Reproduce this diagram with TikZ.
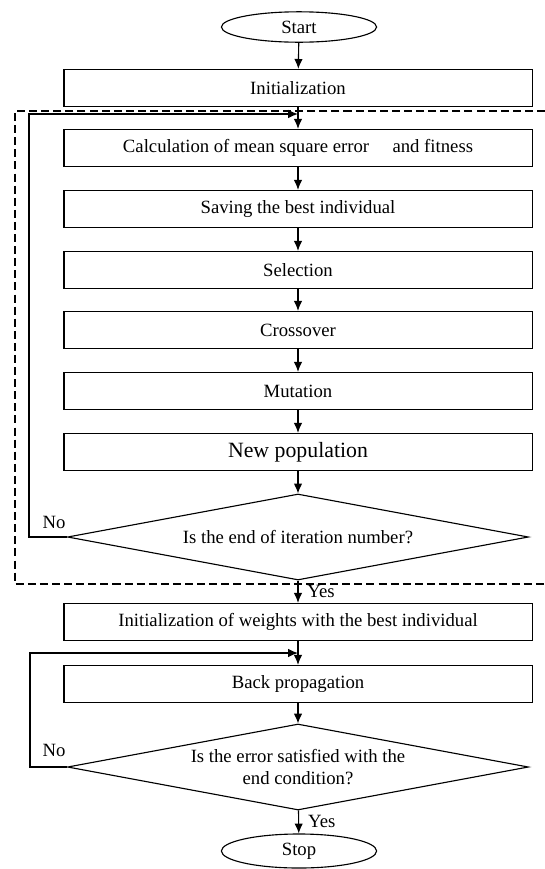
\documentclass[tikz,border=0pt]{standalone}
\usepackage{fontspec}
\setmainfont{Liberation Serif}
\usetikzlibrary{arrows.meta,graphs,quotes,shapes.geometric}
\tikzset{
	stepbox/.style={draw, rectangle, minimum width=11.7cm, minimum height=0.93cm, inner sep=2pt},
	termnode/.style={draw, ellipse, minimum width=3.88cm, minimum height=0.76cm, inner sep=0pt},
	testnode/.style={draw, diamond, aspect=5.35, minimum width=11.52cm, minimum height=2.15cm, inner sep=0pt, align=center}
}
\begin{document}
\begin{tikzpicture}[x=0.025cm, y=-0.025cm, line width=0.8pt, >={Latex[length=7pt,width=6pt]},
		font=\fontsize{13.3}{15.5}\selectfont]
	\useasboundingbox (0,0) rectangle (545,869);
	\graph[no placement]{
		start/Start[termnode, at={(299,27)}];
		init/Initialization[stepbox, at={(298,88)}];
		calc/{Calculation of mean square error\quad\ and fitness}[stepbox, at={(298,148)}];
		save/{Saving the best individual}[stepbox, at={(298,209)}];
		sel/Selection[stepbox, at={(298,270)}];
		cross/Crossover[stepbox, at={(298,330)}];
		mut/Mutation[stepbox, at={(298,391)}];
		newpop/{New population}[stepbox, at={(298,452)}, font=\fontsize{15.5}{18}\selectfont];
		iter/{Is the end of iteration number?}[testnode, at={(298,537)}];
		weights/{Initialization of weights with the best individual}[stepbox, at={(298,622)}];
		back/{Back propagation}[stepbox, at={(298,684)}];
		err/{Is the error satisfied with the\\ end condition?}[testnode, at={(298,767)}];
		stop/Stop[termnode, at={(299,851)}, minimum height=0.85cm];

		start -> init -> calc -> save -> sel -> cross -> mut -> newpop -> iter;
		iter ->["Yes" right=3pt] weights -> back -> err;
		err ->["Yes" right=3pt] stop;
	};

	% loops back
	\coordinate (j1) at (298,114);
	\coordinate (c1) at (29,114);
	\coordinate (j2) at (298,653);
	\coordinate (c2) at (30,653);
	\draw[->] (iter.west) -| (c1) -- (j1);
	\draw[->] (err.west) -| (c2) -- (j2);
	\node (no1) at (54,522) {No};
	\node (no2) at (54,750) {No};

	% GA part
	\draw[line width=1.4pt, dash pattern=on 5.7pt off 2.9pt] (545,111) -| (15,584) -- (545,584);
\end{tikzpicture}
\end{document}
